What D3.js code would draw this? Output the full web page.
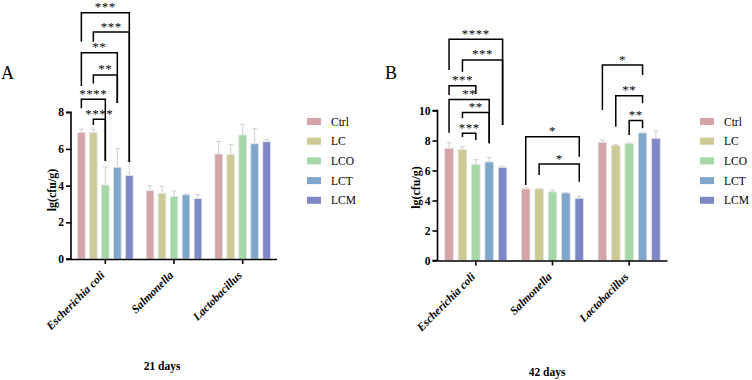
<!DOCTYPE html>
<html><head><meta charset="utf-8">
<script src="https://cdn.jsdelivr.net/npm/d3@7"></script>
<style>body{margin:0;background:#fff}svg{display:block}text{font-family:"Liberation Serif","Times New Roman",serif;fill:#000}</style>
</head><body><svg id="c" width="752" height="380"></svg>
<script>
const categories = ["Escherichia coli", "Salmonella", "Lactobacillus"];
const groups = ["Ctrl", "LC", "LCO", "LCT", "LCM"];
const colors = ["#d4a4a9", "#cdca96", "#a4d8a6", "#7fa6cd", "#7e88c8"];
const yTicksA = [0, 2, 4, 6, 8];
const yTicksB = [0, 2, 4, 6, 8, 10];
// rows = categories, columns = groups
const meansA = [[6.9, 6.88, 4.03, 5.0, 4.55], [3.72, 3.58, 3.4, 3.5, 3.29], [5.72, 5.69, 6.76, 6.28, 6.39]];
const errA   = [[0.18, 0.2, 0.98, 1.02, 0.78], [0.28, 0.38, 0.3, 0.03, 0.23], [0.69, 0.56, 0.58, 0.82, 0.11]];
const meansB = [[7.48, 7.41, 6.39, 6.57, 6.21], [4.77, 4.77, 4.57, 4.5, 4.15], [7.88, 7.68, 7.79, 8.5, 8.14]];
const errB   = [[0.37, 0.17, 0.33, 0.31, 0.09], [0.05, 0.05, 0.12, 0.04, 0.12], [0.15, 0.07, 0.04, 0.05, 0.49]];
// significance brackets: category, from group, to group, label, level, left leg end, right leg end (data units)
const bracketsA = [
  ["Escherichia coli", "Ctrl", "LCM", "***", 13.42, 11.84, 5.3],
  ["Escherichia coli", "LC", "LCM", "***", 12.37, 11.84, 5.3],
  ["Escherichia coli", "Ctrl", "LCT", "**", 11.24, 9.43, 8.5],
  ["Escherichia coli", "LC", "LCT", "**", 10.03, 9.57, 8.5],
  ["Escherichia coli", "Ctrl", "LCO", "****", 8.7, 8.21, 5.34],
  ["Escherichia coli", "LC", "LCO", "****", 7.61, 7.3, 5.34]
];
const bracketsB = [
  ["Escherichia coli", "Ctrl", "LCM", "****", 14.75, 12.7, 9.03],
  ["Escherichia coli", "LC", "LCM", "***", 13.37, 12.59, 9.03],
  ["Escherichia coli", "Ctrl", "LCO", "***", 11.65, 11.03, 11.1],
  ["Escherichia coli", "Ctrl", "LCT", "**", 10.73, 8.52, 7.81],
  ["Escherichia coli", "LC", "LCT", "**", 9.87, 9.48, 7.81],
  ["Escherichia coli", "LC", "LCO", "***", 8.48, 8.23, 8.03],
  ["Salmonella", "Ctrl", "LCM", "*", 8.25, 5.03, 6.92],
  ["Salmonella", "LC", "LCM", "*", 6.43, 5.7, 5.25],
  ["Lactobacillus", "Ctrl", "LCT", "*", 13.03, 10.03, 12.37],
  ["Lactobacillus", "LC", "LCT", "**", 10.99, 8.92, 10.48],
  ["Lactobacillus", "LCO", "LCT", "**", 9.33, 8.37, 8.81]
];

const svg = d3.select("#c");

function panel(o) {
  const g = svg.append("g");
  const x = d3.scaleBand().domain(categories).range([o.x0, o.x1]);
  const y = d3.scaleLinear().domain([0, o.ymax]).range([o.y0, o.y1]);
  const inner = d3.scaleBand().domain(groups)
    .range([-x.bandwidth() * 0.405, x.bandwidth() * 0.405]).paddingInner(0.36);
  const cx = (c, k) => x(c) + x.bandwidth() / 2 + inner(k) + inner.bandwidth() / 2;

  categories.forEach((c, ci) => {
    groups.forEach((k, ki) => {
      const v = o.means[ci][ki], e = o.err[ci][ki];
      const xc = cx(c, k);
      g.append("line").attr("x1", xc).attr("x2", xc).attr("y1", y(v)).attr("y2", y(v + e))
        .attr("stroke", "#cfcfcf").attr("stroke-width", 1);
      g.append("line").attr("x1", xc - 2.5).attr("x2", xc + 2.5).attr("y1", y(v + e)).attr("y2", y(v + e))
        .attr("stroke", "#cfcfcf").attr("stroke-width", 1);
      g.append("rect")
        .attr("x", x(c) + x.bandwidth() / 2 + inner(k)).attr("width", inner.bandwidth())
        .attr("y", y(v)).attr("height", y(0) - y(v))
        .attr("fill", colors[ki]).attr("stroke", "#e4e4e4").attr("stroke-width", 0.8);
    });
  });

  const ya = g.append("g").attr("transform", `translate(${o.x0},0)`)
    .call(d3.axisLeft(y).tickValues(o.ticks).tickSize(5).tickPadding(2).tickFormat(d3.format("d")));
  const xa = g.append("g").attr("transform", `translate(0,${o.y0})`)
    .call(d3.axisBottom(x).tickSize(5).tickFormat(""));
  [ya, xa].forEach(a => {
    a.select(".domain").attr("stroke", "#000").attr("stroke-width", 1.6);
    a.selectAll(".tick line").attr("stroke", "#000").attr("stroke-width", 1.6);
  });
  ya.select(".domain").attr("d", `M-5,${y(0)}H0V${y(o.ymax)}H-5`);
  xa.select(".domain").attr("d", `M0,0.5H${o.x1 - o.x0}`).attr("transform", `translate(${o.x0},0)`);
  ya.selectAll(".tick text").attr("font-family", "Liberation Serif").attr("font-size", 11.5)
    .attr("font-weight", "bold").attr("fill", "#000");

  categories.forEach(c => {
    const tx = x(c) + x.bandwidth() / 2;
    g.append("text").attr("transform", `translate(${tx},${o.y0 + 17}) rotate(-45)`)
      .attr("text-anchor", "end").attr("font-size", 11.5).attr("font-weight", "bold")
      .attr("font-style", "italic").text(c);
  });

  o.brackets.forEach(b => {
    const xa1 = cx(b[0], b[1]), xb1 = cx(b[0], b[2]);
    const yl = y(b[4]);
    g.append("path").attr("d", `M${xa1},${y(b[5])}V${yl}H${xb1}V${y(b[6])}`)
      .attr("fill", "none").attr("stroke", "#000").attr("stroke-width", 1.5);
    g.append("text").attr("x", (xa1 + xb1) / 2).attr("y", yl - 1.5)
      .attr("text-anchor", "middle").attr("font-size", 13).attr("fill", "#000")
      .attr("letter-spacing", 0.5).text(b[3]);
  });

  g.append("text").attr("transform", `translate(${o.ylx},${o.yly}) rotate(-90)`)
    .attr("text-anchor", "middle").attr("dy", "0.35em").attr("font-size", 12).attr("font-weight", "bold")
    .text("lg(cfu/g)");
  g.append("text").attr("x", o.lx).attr("y", 79).attr("font-size", 18).text(o.letter);
  g.append("text").attr("x", o.tx).attr("y", o.ty).attr("text-anchor", "middle")
    .attr("font-size", 11.5).attr("font-weight", "bold").text(o.title);

  groups.forEach((k, i) => {
    const ly = 121.5 + i * 19.7;
    g.append("rect").attr("x", o.legx).attr("y", ly - 3.5).attr("width", 14).attr("height", 7).attr("fill", colors[i]);
    g.append("text").attr("x", o.legx + 24).attr("y", ly).attr("dy", "0.35em").attr("font-size", 11.5).text(k);
  });
}

panel({x0: 71, x1: 277, y0: 259, y1: 112.2, ymax: 8, ticks: yTicksA, means: meansA, err: errA,
  brackets: bracketsA, ylx: 51.5, yly: 190, letter: "A", lx: 1, title: "21 days", tx: 162, ty: 370, legx: 307});
panel({x0: 437.5, x1: 667.5, y0: 260.5, y1: 110.5, ymax: 10, ticks: yTicksB, means: meansB, err: errB,
  brackets: bracketsB, ylx: 415.5, yly: 187.5, letter: "B", lx: 385, title: "42 days", tx: 547, ty: 376, legx: 700});
</script></body></html>
